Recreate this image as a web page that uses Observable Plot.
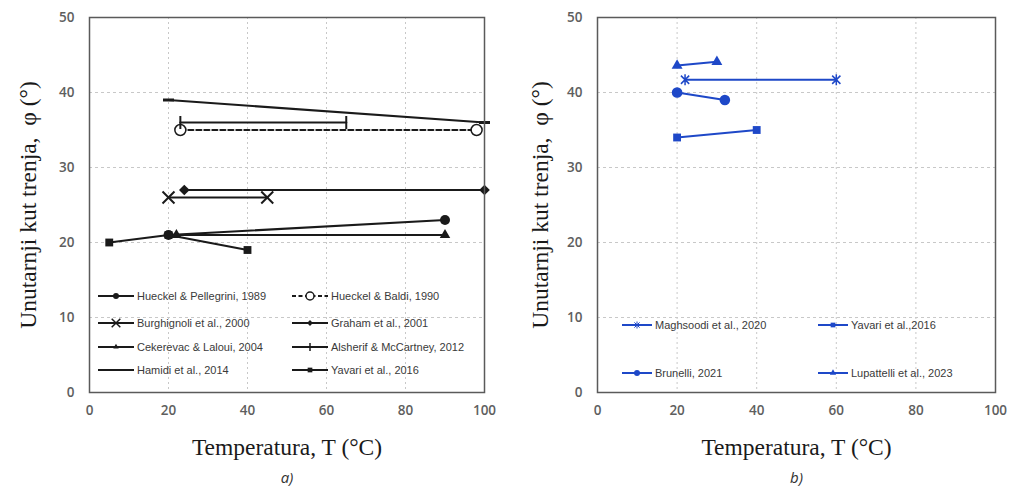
<!DOCTYPE html>
<html><head><meta charset="utf-8">
<script src="https://cdn.jsdelivr.net/npm/d3@7"></script>
<script src="https://cdn.jsdelivr.net/npm/@observablehq/plot@0.6"></script>
<style>
body{margin:0;background:#fff;}
#wrap{position:relative;width:1009px;height:494px;overflow:hidden;background:#fff;}
.panel{position:absolute;top:0;}
.item{position:absolute;display:flex;align-items:center;white-space:nowrap;font-family:"Liberation Sans",sans-serif;font-size:11px;color:#3a3a3a;height:14px;}
.item svg{margin-right:3px;overflow:visible;}
</style></head><body><div id="wrap"></div>
<script>
// ---------- data ----------
const seriesA = ["Hueckel & Pellegrini, 1989","Hueckel & Baldi, 1990","Burghignoli et al., 2000","Graham et al., 2001","Cekerevac & Laloui, 2004","Alsherif & McCartney, 2012","Hamidi et al., 2014","Yavari et al., 2016"];
const tempA = [[20,90],[23,98],[20,45],[24,100],[22,90],[23,65],[20,100],[5,20,40]];
const phiA  = [[21,23],[35,35],[26,26],[27,27],[21,21],[36,36],[39,36],[20,21,19]];

const seriesB = ["Maghsoodi et al., 2020","Yavari et al.,2016","Brunelli, 2021","Lupattelli et al., 2023"];
const tempB = [[22,60],[20,40],[20,32],[20,30]];
const phiB  = [[41.7,41.7],[34,35],[40,39],[43.6,44.1]];

const xTicks = [0,20,40,60,80,100];
const yTicks = [0,10,20,30,40,50];
const xGrid = [20,40,60,80];
const yGrid = [10,20,30,40];
const xLabel = "Temperatura, T (°C)";
const yLabel = "Unutarnji kut trenja,\u00a0 φ (°)";
const captions = ["a)","b)"];

// ---------- styles ----------
const R = s => Math.sqrt(s/Math.PI);
const vbar = {draw(c,s){const r=R(s);c.moveTo(0,-r);c.lineTo(0,r);}};
const hbar = {draw(c,s){const r=R(s);c.moveTo(-r,0);c.lineTo(r,0);}};
const star = {draw(c,s){const r=R(s),q=r*0.75;c.moveTo(-q,-q);c.lineTo(q,q);c.moveTo(-q,q);c.lineTo(q,-q);c.moveTo(0,-r);c.lineTo(0,r);}};
const K = "#1a1a1a", B = "#1e48c8";
const stylesA = [
  {sym:d3.symbolCircle, r:5, fill:K, stroke:"none", lr:3},
  {sym:d3.symbolCircle, r:5.5, fill:"white", stroke:K, sw:1.5, dash:"5,3", lr:4},
  {sym:d3.symbolTimes, r:5.5, fill:"none", stroke:K, sw:2, lr:4},
  {sym:d3.symbolDiamond2, r:4.8, fill:K, stroke:"none", lr:2.6},
  {sym:d3.symbolTriangle2, r:5, fill:K, stroke:"none", lr:2.6},
  {sym:vbar, r:6.5, fill:"none", stroke:K, sw:2, lr:4},
  {sym:hbar, r:5.5, fill:"none", stroke:K, sw:3, lr:0},
  {sym:d3.symbolSquare2, r:5, fill:K, stroke:"none", lr:3}
];
const stylesB = [
  {sym:star, r:5.5, fill:"none", stroke:B, sw:1.5, lr:3.5, lsw:1},
  {sym:d3.symbolSquare2, r:5, fill:B, stroke:"none", lr:3},
  {sym:d3.symbolCircle, r:5.3, fill:B, stroke:"none", lr:3},
  {sym:d3.symbolTriangle2, r:5.2, fill:B, stroke:"none", lr:3}
];

function panel({series, temps, phis, styles, color, width, mL, mR, yDx, caption}) {
  const rows = series.flatMap((s,i)=>temps[i].map((t,j)=>({s, t, p:phis[i][j]})));
  const marks = [
    Plot.gridX(xGrid, {stroke:"#c8c8c8", strokeOpacity:1, strokeDasharray:"2,3"}),
    Plot.gridY(yGrid, {stroke:"#c8c8c8", strokeOpacity:1, strokeDasharray:"3,3"}),
    Plot.axisX(xTicks, {tickSize:0, tickPadding:13, fontSize:13.5, fontWeight:600, color:"#5e5e5e", fontFamily:"Open Sans", label:null}),
    Plot.axisY(yTicks, {tickSize:0, tickPadding:15, fontSize:13.5, fontWeight:600, color:"#5e5e5e", fontFamily:"Open Sans", label:null}),
  ];
  series.forEach((s,i)=>{
    const st = styles[i];
    const d = rows.filter(r=>r.s===s);
    marks.push(Plot.line(d, {x:"t", y:"p", stroke:color, strokeWidth:2.2, strokeDasharray:st.dash||null}));
  });
  series.forEach((s,i)=>{
    const st = styles[i];
    const d = rows.filter(r=>r.s===s);
    marks.push(Plot.dot(d, {x:"t", y:"p", symbol:st.sym, r:st.r, fill:st.fill, stroke:st.stroke, strokeWidth:st.sw||1}));
  });
  marks.push(Plot.frame({stroke:"#5a5a5a", strokeWidth:1.5}));
  marks.push(Plot.text([xLabel], {frameAnchor:"bottom", dy:62, fontFamily:"Liberation Serif", fontSize:23.5, fill:"#1a1a1a"}));
  marks.push(Plot.text([yLabel], {frameAnchor:"left", dx:yDx, rotate:-90, textAnchor:"middle", fontFamily:"Liberation Serif", fontSize:23.5, fill:"#1a1a1a"}));
  marks.push(Plot.text([caption], {frameAnchor:"bottom", dy:90, fontFamily:"Open Sans", fontStyle:"italic", fontSize:15, fill:"#333"}));
  return Plot.plot({
    width, height:494, marginLeft:mL, marginRight:mR, marginTop:17, marginBottom:102,
    x:{domain:[0,100], label:null}, y:{domain:[0,50], label:null},
    style:{background:"white", overflow:"visible"},
    marks
  });
}

function swatch(st, color, w) {
  const svg = d3.create("svg").attr("width", w).attr("height", 12);
  svg.append("line").attr("x1",0).attr("x2",w).attr("y1",6).attr("y2",6)
    .attr("stroke",color).attr("stroke-width",2).attr("stroke-dasharray", st.dash ? "4,2.5" : null);
  if (st.lr > 0) {
    svg.append("path").attr("transform",`translate(${w/2},6)`)
      .attr("d", d3.symbol(st.sym, st.lr*st.lr*Math.PI)())
      .attr("fill", st.fill).attr("stroke", st.stroke).attr("stroke-width", st.lsw || (st.sw ? Math.min(st.sw,1.5) : null));
  }
  return svg.node();
}

const wrap = document.getElementById("wrap");
const pA = panel({series:seriesA, temps:tempA, phis:phiA, styles:stylesA, color:K, width:500, mL:89, mR:16, yDx:-61, caption:captions[0]});
pA.classList.add("panel"); pA.style.left = "0px";
wrap.appendChild(pA);
const pB = panel({series:seriesB, temps:tempB, phis:phiB, styles:stylesB, color:B, width:504, mL:92, mR:14, yDx:-57, caption:captions[1]});
pB.classList.add("panel"); pB.style.left = "505px";
wrap.appendChild(pB);

function legend(series, styles, color, cols, rowsY, w) {
  series.forEach((s,i)=>{
    const div = document.createElement("div");
    div.className = "item";
    div.style.left = cols[i%2] + "px";
    div.style.top = (rowsY[Math.floor(i/2)] - 7) + "px";
    div.appendChild(swatch(styles[i], color, w));
    const span = document.createElement("span"); span.textContent = s;
    div.appendChild(span);
    wrap.appendChild(div);
  });
}
legend(seriesA, stylesA, K, [98,292], [296,323,347,370], 36);
legend(seriesB, stylesB, B, [622,818], [325,373], 30);
</script></body></html>
